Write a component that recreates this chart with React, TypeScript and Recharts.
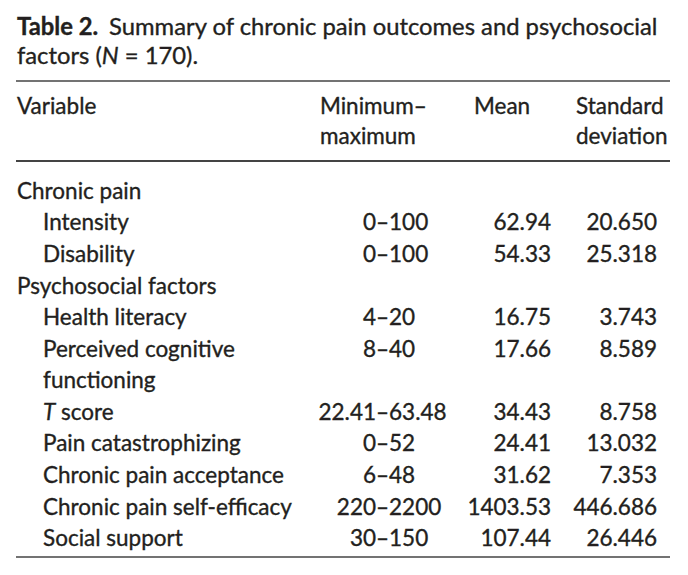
import { Scatter, ScatterChart, XAxis, YAxis } from "recharts";

// table rows, top to bottom
const variables = [
  "Chronic pain",
  "Intensity",
  "Disability",
  "Psychosocial factors",
  "Health literacy",
  "Perceived cognitive|functioning",
  "T| score",
  "Pain catastrophizing",
  "Chronic pain acceptance",
  "Chronic pain self-efficacy",
  "Social support",
];
const isGroup = [true, false, false, true, false, false, false, false, false, false, false];
const minimums = [null, 0, 0, null, 4, 8, 22.41, 0, 6, 220, 30];
const maximums = [null, 100, 100, null, 20, 40, 63.48, 52, 48, 2200, 150];
const means = [null, 62.94, 54.33, null, 16.75, 17.66, 34.43, 24.41, 31.62, 1403.53, 107.44];
const sds = [null, 20.65, 25.318, null, 3.743, 8.589, 8.758, 13.032, 7.353, 446.686, 26.446];

const headers = [
  { lines: ["Variable"], x: 17 },
  { lines: ["Minimum\u2013", "maximum"], x: 320 },
  { lines: ["Mean"], x: 474 },
  { lines: ["Standard", "deviation"], x: 576 },
];

const W = 688;
const H = 575;
const FONT = "Lato, 'Open Sans', sans-serif";
const INK = "#231f20";
const BODY = 22.5;
const TITLE = 23.8;
const txt = { fontFamily: FONT, fill: INK, stroke: INK, strokeWidth: 0.35 };

// x anchors of the columns
const COL = { label: 17, indent: 43, dash: 382, mean: 551, sd: 657 };

// line index of each row (a wrapped label takes two lines)
const lineIdx: number[] = [];
variables.reduce((acc, v, i) => {
  lineIdx[i] = acc;
  return acc + v.split("|").length - (v.startsWith("T|") ? 1 : 0);
}, 0);

const rows = variables.map((v, i) => ({
  line: lineIdx[i],
  label: v,
  group: isGroup[i],
  min: minimums[i],
  max: maximums[i],
  mean: means[i],
  sd: sds[i],
}));

const fmt = (n: number) => String(n);

function LabelShape(props: any) {
  const { cy, payload } = props;
  const x = payload.group ? COL.label : COL.indent;
  const y = cy + 6;
  if (payload.label.startsWith("T|")) {
    return (
      <text x={x} y={y} fontSize={BODY} {...txt}>
        <tspan fontStyle="italic">T</tspan>
        <tspan> score</tspan>
      </text>
    );
  }
  const parts = payload.label.split("|");
  return (
    <text x={x} y={y} fontSize={BODY} {...txt}>
      {parts.map((p: string, k: number) => (
        <tspan key={k} x={x} dy={k === 0 ? 0 : 31.6}>
          {p}
        </tspan>
      ))}
    </text>
  );
}

function RangeShape(props: any) {
  const { cy, payload } = props;
  if (payload.min == null) return <g />;
  const y = cy + 6;
  return (
    <g>
      <text x={COL.dash - 6} y={y} textAnchor="end" fontSize={BODY} {...txt}>
        {fmt(payload.min)}
      </text>
      <text x={COL.dash - 6} y={y} fontSize={BODY} {...txt}>
        {"\u2013" + fmt(payload.max)}
      </text>
    </g>
  );
}

function numShape(key: "mean" | "sd", digits: number, x: number) {
  return (props: any) => {
    const { cy, payload } = props;
    if (payload[key] == null) return <g />;
    return (
      <text x={x} y={cy + 6} textAnchor="end" fontSize={BODY} {...txt}>
        {payload[key].toFixed(digits)}
      </text>
    );
  };
}

export default function App() {
  return (
    <div style={{ position: "absolute", left: 0, top: 0, width: W, height: H, background: "#fff" }}>
      <ScatterChart width={W} height={H} margin={{ top: 0, right: 0, bottom: 0, left: 0 }} data={rows}>
        <XAxis type="number" dataKey="line" hide domain={[0, 1]} />
        <YAxis type="number" dataKey="line" hide reversed domain={[-6.1, 12.1]} />
        <text x={17} y={35} fontSize={TITLE} {...txt}>
          <tspan fontWeight="bold">Table 2.</tspan>
          <tspan dx={11}>Summary of chronic pain outcomes and psychosocial</tspan>
        </text>
        <text x={17} y={64} fontSize={TITLE} {...txt}>
          factors (<tspan fontStyle="italic">N</tspan> = 170).
        </text>
        <line x1={16} x2={670} y1={81} y2={81} stroke="#444" strokeWidth={1.3} />
        {headers.map((h) =>
          h.lines.map((l, k) => (
            <text key={h.x + l} x={h.x} y={114 + k * 30} fontSize={BODY} {...txt}>
              {l}
            </text>
          ))
        )}
        <line x1={16} x2={670} y1={161} y2={161} stroke="#444" strokeWidth={2} />
        <line x1={16} x2={670} y1={557} y2={557} stroke="#444" strokeWidth={1.5} />
        <Scatter data={rows} dataKey="line" isAnimationActive={false} shape={LabelShape} />
        <Scatter data={rows} dataKey="line" isAnimationActive={false} shape={RangeShape} />
        <Scatter data={rows} dataKey="line" isAnimationActive={false} shape={numShape("mean", 2, COL.mean)} />
        <Scatter data={rows} dataKey="line" isAnimationActive={false} shape={numShape("sd", 3, COL.sd)} />
      </ScatterChart>
    </div>
  );
}
